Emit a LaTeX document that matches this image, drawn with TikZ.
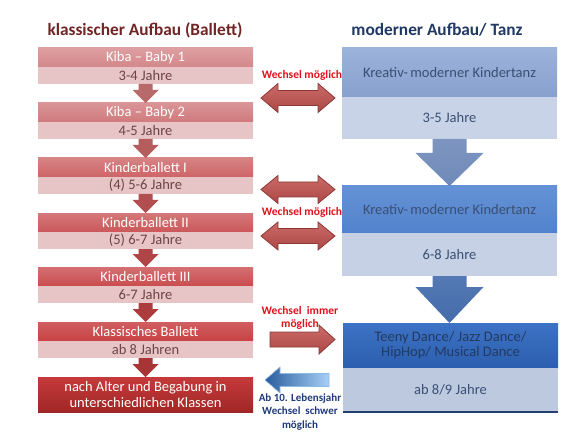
\documentclass[tikz,border=0pt]{standalone}
\usepackage{fontspec}
\setmainfont{Carlito}
\usetikzlibrary{calc,backgrounds}
\definecolor{lsubc}{HTML}{E7C5C6}
\definecolor{lsubtxt}{HTML}{6E4446}
\definecolor{ltitle}{HTML}{722424}
\definecolor{rtitle}{HTML}{1F3864}
\definecolor{rtxt}{HTML}{3A4F73}
\definecolor{rtxtd}{HTML}{233A62}
\definecolor{wred}{HTML}{E2101B}
\definecolor{wblue}{HTML}{1F3A7A}
\definecolor{arrred}{HTML}{C0504D}
\definecolor{arrredd}{HTML}{8C3A38}
\definecolor{lh1}{HTML}{D4878A}
\definecolor{lh2}{HTML}{D07A7C}
\definecolor{lh3}{HTML}{CD6466}
\definecolor{lh4}{HTML}{CA5759}
\definecolor{lh5}{HTML}{C94C4E}
\definecolor{lh6}{HTML}{C84244}
\definecolor{lh7t}{HTML}{C63A3B}
\definecolor{lh7b}{HTML}{A02626}
\definecolor{la1}{HTML}{B86A6B}
\definecolor{la2}{HTML}{B55C5D}
\definecolor{la3}{HTML}{B24E4F}
\definecolor{la4}{HTML}{AF4546}
\definecolor{la5}{HTML}{AC3C3D}
\definecolor{la6}{HTML}{A83536}
\definecolor{rh1t}{HTML}{9CB3DB}
\definecolor{rh1b}{HTML}{87A0CD}
\definecolor{rh2t}{HTML}{6592D6}
\definecolor{rh2b}{HTML}{5182CB}
\definecolor{rh3t}{HTML}{3D72C4}
\definecolor{rh3b}{HTML}{2B5EAE}
\definecolor{rs1}{HTML}{C9D3E8}
\definecolor{rs2}{HTML}{C6D1E6}
\definecolor{rs3}{HTML}{BDC9DF}
\definecolor{rline}{HTML}{24406E}
\definecolor{ra1t}{HTML}{7D95C0}
\definecolor{ra1b}{HTML}{6F89B8}
\definecolor{ra2t}{HTML}{5479B5}
\definecolor{ra2b}{HTML}{456CA9}
\definecolor{bldark}{HTML}{2A5C9E}
\definecolor{bllight}{HTML}{A6D0F5}
\definecolor{blborder}{HTML}{8DB8E6}
\tikzset{
  hbox/.style={anchor=north west, minimum width=215pt, inner sep=0pt, outer sep=0pt,
    text=white, font=\fontsize{14.5}{15.5}\selectfont, align=center},
  sbox/.style={anchor=north west, minimum width=215pt, inner sep=0pt, outer sep=0pt,
    fill=lsubc, text=lsubtxt, font=\fontsize{14.5}{15.5}\selectfont},
  rbox/.style={anchor=north west, minimum width=215pt, inner sep=0pt, outer sep=0pt,
    text=rtxt, font=\fontsize{14.5}{15}\selectfont, align=center},
  titletext/.style={font=\bfseries\fontsize{17.3}{20}\selectfont, inner sep=0pt},
  wlabel/.style={font=\bfseries\fontsize{11.5}{13}\selectfont, text=wred, align=center, inner sep=0pt},
  blabel/.style={font=\bfseries\fontsize{11}{13.5}\selectfont, text=wblue, align=center, inner sep=0pt},
  redarrow/.style={top color=arrred!85!white, bottom color=arrred!90!black, draw=arrredd, line width=0.8pt},
  shadowbox/.style={fill=black, opacity=0.12},
}
% down block arrow: from, to, shaft half, head half, head length, style
\newcommand\blockdown[6]{%
  \path[#6] let \p1=(#1.south), \p2=(#2.north) in
    ({\x1-#3pt},\y1) -- ({\x1+#3pt},\y1) -- ({\x1+#3pt},{\y2+#5pt}) -- ({\x1+#4pt},{\y2+#5pt})
    -- (\x1,\y2) -- ({\x1-#4pt},{\y2+#5pt}) -- ({\x1-#3pt},{\y2+#5pt}) -- cycle;}
% horizontal double block arrow
\newcommand\blockdouble[6]{%
  \path[#6] let \p1=(#1), \p2=(#2) in
    (\x1,\y1) -- ({\x1+#5pt},{\y1+#4pt}) -- ({\x1+#5pt},{\y1+#3pt}) -- ({\x2-#5pt},{\y1+#3pt})
    -- ({\x2-#5pt},{\y1+#4pt}) -- (\x2,\y1) -- ({\x2-#5pt},{\y1-#4pt}) -- ({\x2-#5pt},{\y1-#3pt})
    -- ({\x1+#5pt},{\y1-#3pt}) -- ({\x1+#5pt},{\y1-#4pt}) -- cycle;}
% horizontal single block arrow, tail #1, tip #2, signed head length #5
\newcommand\blocksingle[6]{%
  \path[#6] let \p1=(#1), \p2=(#2) in
    (\x1,{\y1+#3pt}) -- ({\x2-(#5)*1pt},{\y1+#3pt}) -- ({\x2-(#5)*1pt},{\y1+#4pt}) -- (\x2,\y1)
    -- ({\x2-(#5)*1pt},{\y1-#4pt}) -- ({\x2-(#5)*1pt},{\y1-#3pt}) -- (\x1,{\y1-#3pt}) -- cycle;}
\begin{document}
\begin{tikzpicture}[x=1pt,y=-1pt]
\useasboundingbox[fill=white] (0,0) rectangle (576,433);

% titles
\node[titletext, text=ltitle] (t1) at (145,30) {klassischer Aufbau (Ballett)};
\node[titletext, text=rtitle] (t2) at (437,30) {moderner Aufbau/ Tanz};

% left column
\node[hbox, top color=lh1!80!white, bottom color=lh1, minimum height=19pt] (l1h) at (38,48) {Kiba – Baby 1};
\node[sbox, minimum height=17pt] (l1s) at (38,67) {3-4 Jahre};
\node[hbox, top color=lh2!80!white, bottom color=lh2, minimum height=19pt] (l2h) at (38,103) {Kiba – Baby 2};
\node[sbox, minimum height=17pt] (l2s) at (38,122) {4-5 Jahre};
\node[hbox, top color=lh3!80!white, bottom color=lh3, minimum height=19pt] (l3h) at (38,158) {Kinderballett I};
\node[sbox, minimum height=17pt] (l3s) at (38,177) {(4) 5-6 Jahre};
\node[hbox, top color=lh4!80!white, bottom color=lh4, minimum height=19pt] (l4h) at (38,213) {Kinderballett II};
\node[sbox, minimum height=17pt] (l4s) at (38,232) {(5) 6-7 Jahre};
\node[hbox, top color=lh5!80!white, bottom color=lh5, minimum height=19pt] (l5h) at (38,267) {Kinderballett III};
\node[sbox, minimum height=17pt] (l5s) at (38,286) {6-7 Jahre};
\node[hbox, top color=lh6!85!white, bottom color=lh6, minimum height=19pt] (l6h) at (38,322) {Klassisches Ballett};
\node[sbox, minimum height=17pt] (l6s) at (38,341) {ab 8 Jahren};
\node[hbox, top color=lh7t, bottom color=lh7b, minimum height=35pt] (l7) at (38,377) {nach Alter und Begabung in\\unterschiedlichen Klassen};

% right column
\node[rbox, top color=rh1t, bottom color=rh1b, minimum height=49pt] (r1h) at (342,48) {Kreativ-\,moderner Kindertanz};
\node[rbox, fill=rs1, minimum height=42pt] (r1s) at (342,97) {3-5 Jahre};
\node[rbox, top color=rh2t, bottom color=rh2b, minimum height=47pt] (r2h) at (342,186) {Kreativ-\,moderner Kindertanz};
\node[rbox, fill=rs2, minimum height=43pt] (r2s) at (342,233) {6-8 Jahre};
\node[rbox, top color=rh3t, bottom color=rh3b, minimum height=45pt, text=rtxtd] (r3h) at (343,323) {Teeny Dance/ Jazz Dance/\\HipHop/ Musical Dance};
\node[rbox, fill=rs3, minimum height=44pt] (r3s) at (343,368) {ab 8/9 Jahre};
\draw[line width=1.2pt, draw=rline] (r3s.south west) -- (r3s.south east);

% shadows
\begin{scope}[on background layer]
  \foreach \a/\b in {l1h/l1s,l2h/l2s,l3h/l3s,l4h/l4s,l5h/l5s,l6h/l6s,l7/l7,r1h/r1s,r2h/r2s,r3h/r3s}{
    \fill[shadowbox] ($(\a.north west)+(2,2)$) rectangle ($(\b.south east)+(2,2)$);
  }
\end{scope}

% down arrows left
\blockdown{l1s}{l2h}{7}{13}{13}{fill=la1}
\blockdown{l2s}{l3h}{7}{13}{13}{fill=la2}
\blockdown{l3s}{l4h}{7}{13}{13}{fill=la3}
\blockdown{l4s}{l5h}{7}{13}{13}{fill=la4}
\blockdown{l5s}{l6h}{7}{13}{13}{fill=la5}
\blockdown{l6s}{l7}{7}{13}{13}{fill=la6}

% down arrows right
\blockdown{r1s}{r2h}{17}{34}{33}{top color=ra1t, bottom color=ra1b}
\blockdown{r2s}{r3h}{17}{34}{36}{top color=ra2t, bottom color=ra2b}

% horizontal arrows
\coordinate (d1a) at (261,98);
\coordinate (d1b) at (335,98);
\coordinate (d2a) at (261,189.5);
\coordinate (d2b) at (335,189.5);
\coordinate (d3a) at (261,236);
\coordinate (d3b) at (335,236);
\coordinate (s1a) at (270,339.5);
\coordinate (s1b) at (335,339.5);
\coordinate (b1a) at (329,380);
\coordinate (b1b) at (265,380);
\blockdouble{d1a}{d1b}{7.5}{14.5}{17}{redarrow}
\blockdouble{d2a}{d2b}{7.5}{14}{17}{redarrow}
\blockdouble{d3a}{d3b}{7.5}{14}{17}{redarrow}
\blocksingle{s1a}{s1b}{7.5}{14.5}{16}{redarrow}
\blocksingle{b1a}{b1b}{6.5}{13}{-15}{left color=bldark, right color=bllight, draw=blborder, line width=0.6pt}

% labels
\node[wlabel] (w1) at (302,75) {Wechsel möglich};
\node[wlabel] (w2) at (302,212) {Wechsel möglich};
\node[wlabel] (w3) at (300,318) {Wechsel\ \ immer\\möglich};
\node[blabel] (w4) at (300,412) {Ab 10. Lebensjahr\\Wechsel\ \ schwer\\möglich};
\end{tikzpicture}
\end{document}
